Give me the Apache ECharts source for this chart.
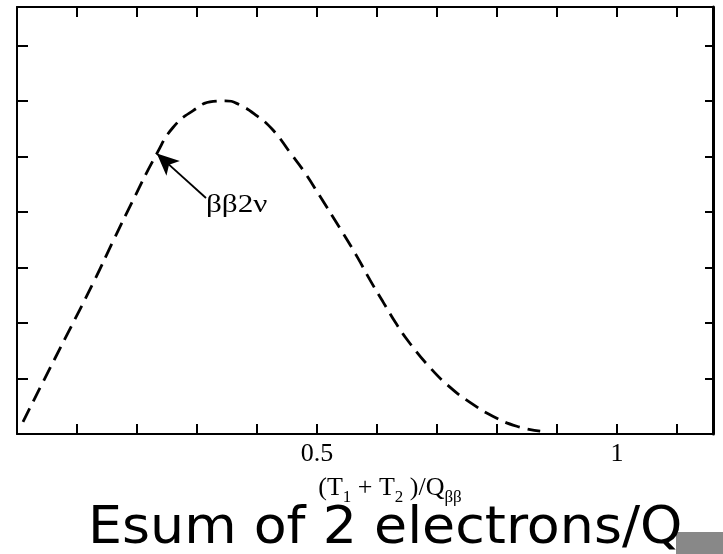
<!DOCTYPE html>
<html><head><meta charset="utf-8">
<script src="https://cdn.jsdelivr.net/npm/echarts@6/dist/echarts.min.js"></script>
<style>html,body{margin:0;padding:0;background:#fff}#c{width:723px;height:554px}</style>
</head><body><div id="c"></div>
<script>
// Curve: x = (T1+T2)/Q, y = arbitrary units (tick = 1)
const xValues = [0.010, 0.043, 0.083, 0.127, 0.160, 0.192, 0.233, 0.260, 0.293, 0.327, 0.347, 0.367, 0.400, 0.427, 0.455, 0.477, 0.505, 0.538, 0.567, 0.588, 0.610, 0.633, 0.655, 0.688, 0.722, 0.755, 0.793, 0.833, 0.872];
const yValues = [0.22, 0.93, 1.78, 2.72, 3.47, 4.18, 5.05, 5.52, 5.82, 5.99, 6.00, 5.95, 5.73, 5.47, 5.07, 4.75, 4.28, 3.71, 3.19, 2.78, 2.38, 1.97, 1.63, 1.20, 0.84, 0.57, 0.32, 0.14, 0.05];
const xLabelValues = [0.5, 1];
const xLabelTexts = ['0.5', '1'];
const arrowFrom = [0.315, 4.25];
const arrowTo = [0.233, 5.05];
const curveLabel = 'ββ2ν';
const bigCaption = 'Esum of 2 electrons/Q';

const seriesData = xValues.map((x, i) => [x, yValues[i]]);
const serif = "'Liberation Serif', 'DejaVu Serif', serif";

const axisCommon = {
  type: 'value', min: 0, splitLine: { show: false },
  axisLine: { show: true, onZero: false, lineStyle: { color: '#000', width: 2 } },
  axisTick: { show: true, inside: true, length: 10, lineStyle: { color: '#000', width: 2 } }
};

const chart = echarts.init(document.getElementById('c'), null, { renderer: 'canvas' });
chart.setOption({
  backgroundColor: '#fff',
  animation: false,
  grid: { left: 17, right: 10, top: 7, bottom: 120 },
  xAxis: [
    Object.assign({}, axisCommon, {
      position: 'bottom', max: 1.16, interval: 0.1,
      axisLabel: {
        show: true, margin: 7, color: '#000', fontFamily: serif, fontSize: 26,
        formatter: function (v) {
          for (let i = 0; i < xLabelValues.length; i++) {
            if (Math.abs(v - xLabelValues[i]) < 1e-6) return xLabelTexts[i];
          }
          return '';
        }
      },
      name: '{m|(T}{s|1}{m| + T}{s|2}{m| )/Q}{s|ββ}',
      nameLocation: 'middle', nameGap: 41,
      nameTextStyle: {
        padding: [0, 0, 0, 50],
        rich: {
          m: { fontFamily: serif, fontSize: 26, color: '#000', lineHeight: 26, verticalAlign: 'top' },
          s: { fontFamily: serif, fontSize: 17, color: '#000', lineHeight: 31, verticalAlign: 'bottom' }
        }
      }
    }),
    Object.assign({}, axisCommon, {
      position: 'top', max: 1.16, interval: 0.1, axisLabel: { show: false }
    })
  ],
  yAxis: [
    Object.assign({}, axisCommon, { position: 'left', max: 7.69, interval: 1, axisLabel: { show: false },
      axisTick: { show: true, inside: true, length: 11, lineStyle: { color: '#000', width: 2 } } }),
    Object.assign({}, axisCommon, { position: 'right', max: 7.69, interval: 1, axisLabel: { show: false },
      axisLine: { show: true, onZero: false, lineStyle: { color: '#000', width: 3 } },
      axisTick: { show: true, inside: true, length: 8, lineStyle: { color: '#000', width: 2 } } })
  ],
  series: [{
    type: 'line', xAxisIndex: 0, yAxisIndex: 0,
    data: seriesData, symbol: 'none', smooth: 0.5,
    lineStyle: { color: '#000', width: 2.8, type: [15, 8] },
    markLine: {
      silent: true, animation: false,
      symbol: ['none', 'arrow'], symbolSize: [15, 22],
      lineStyle: { color: '#000', width: 1.8, type: 'solid' },
      label: { show: false },
      data: [[{ coord: arrowFrom }, { coord: arrowTo }]]
    }
  }],
  graphic: [
    { type: 'text', x: 206, y: 205, z: 10, scaleX: 1.2, scaleY: 1,
      style: { text: curveLabel, x: 0, y: 0, font: "26px " + serif, fill: '#000', textAlign: 'left', textVerticalAlign: 'middle' } },
    { type: 'rect', z: 5, shape: { x: 676, y: 532, width: 47, height: 22 }, style: { fill: '#888' } },
    { type: 'text', x: 88, y: 529, z: 10, scaleX: 1.035, scaleY: 1,
      style: { text: bigCaption, x: 0, y: 0, font: "52px 'DejaVu Sans', Verdana, sans-serif", fill: '#000', textAlign: 'left', textVerticalAlign: 'middle' } }
  ]
});
</script>
</body></html>
